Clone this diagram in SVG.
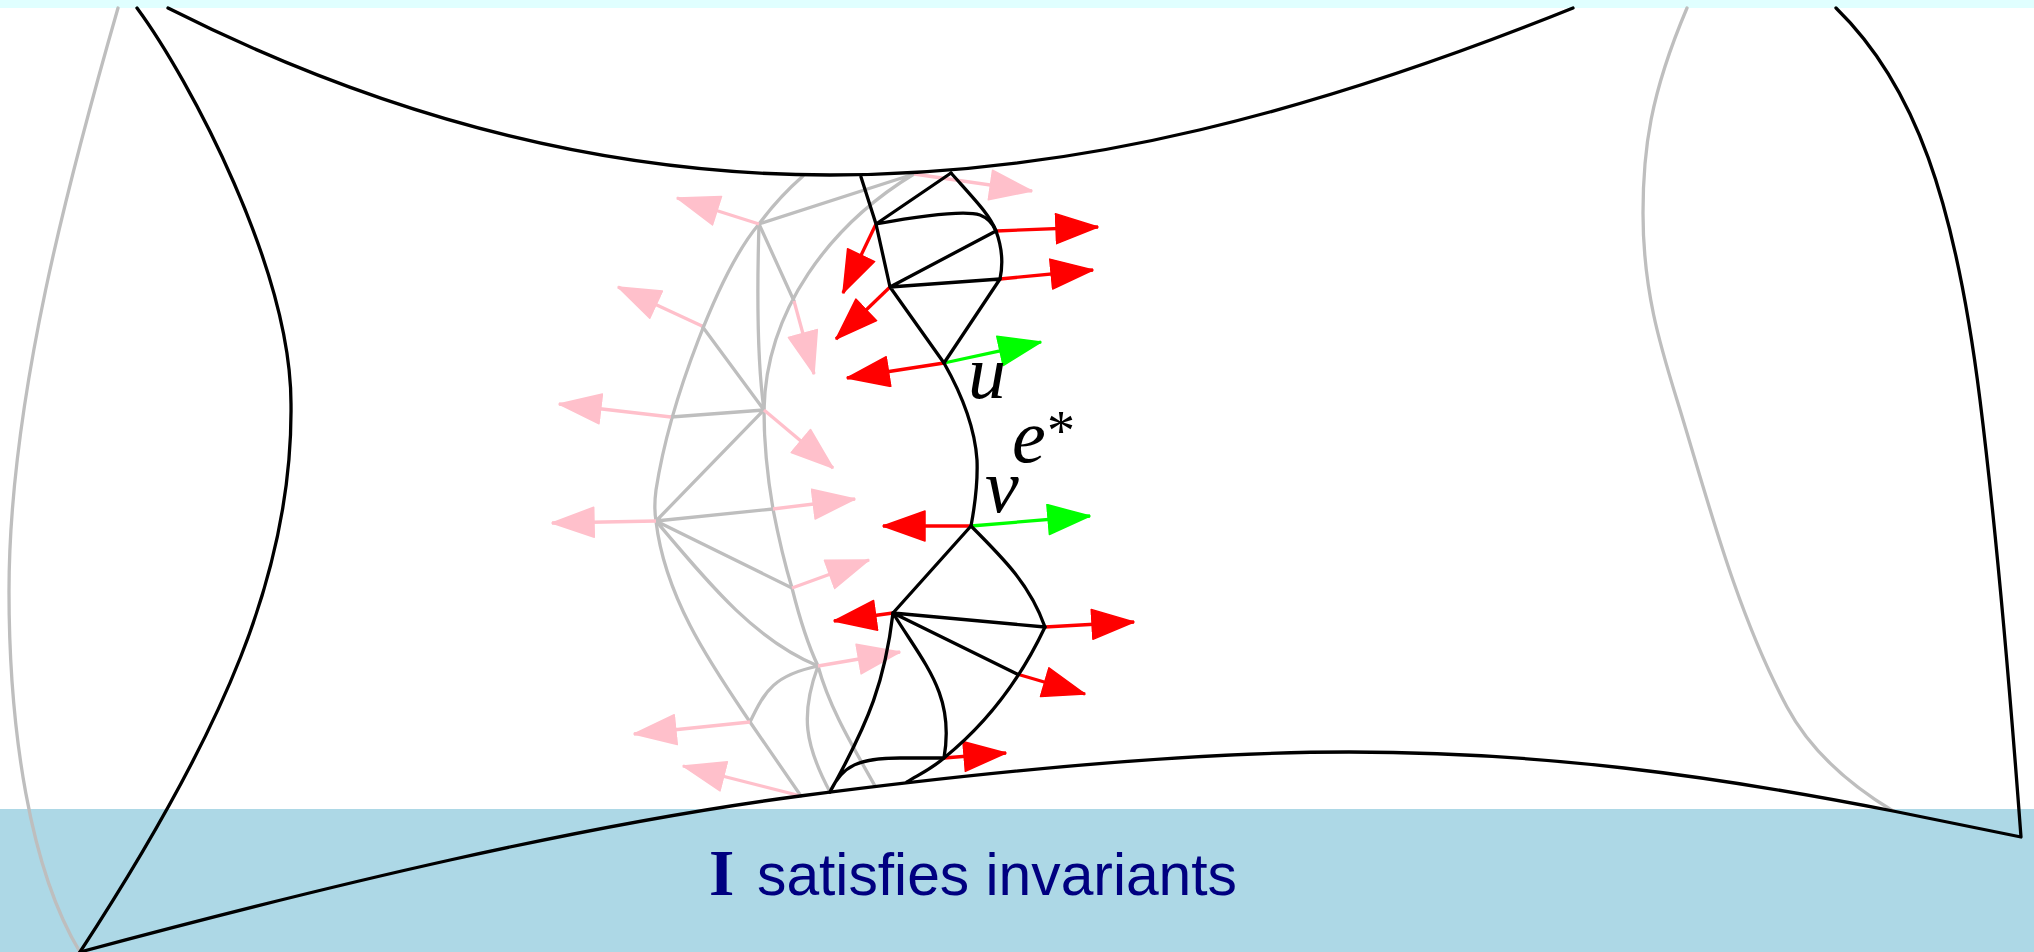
<svg xmlns="http://www.w3.org/2000/svg" width="2034" height="952" viewBox="0 0 2034 952">
<style>
.k{fill:none;stroke:#000;stroke-width:3.3;stroke-linecap:round;stroke-linejoin:round}
.g{fill:none;stroke:#bebebe;stroke-width:3.3;stroke-linecap:round;stroke-linejoin:round}
.r{fill:none;stroke:#f00;stroke-width:3.3;marker-end:url(#hr)}
.p{fill:none;stroke:#ffc0cb;stroke-width:3.3;marker-end:url(#hp)}
.n{fill:none;stroke:#0f0;stroke-width:3.3;marker-end:url(#hn)}
.m{font-family:"Liberation Serif",serif;font-style:italic;font-size:76px;fill:#000}
</style>
<defs>
<marker id="hr" markerUnits="userSpaceOnUse" markerWidth="46" markerHeight="34" refX="43" refY="16" orient="auto"><path d="M1 1L43 16L1 31Z" fill="#f00" stroke="#f00" stroke-width="1.5" stroke-linejoin="round"/></marker>
<marker id="hp" markerUnits="userSpaceOnUse" markerWidth="46" markerHeight="34" refX="43" refY="16" orient="auto"><path d="M1 1L43 16L1 31Z" fill="#ffc0cb" stroke="#ffc0cb" stroke-width="1.5" stroke-linejoin="round"/></marker>
<marker id="hn" markerUnits="userSpaceOnUse" markerWidth="46" markerHeight="34" refX="43" refY="16" orient="auto"><path d="M1 1L43 16L1 31Z" fill="#0f0" stroke="#0f0" stroke-width="1.5" stroke-linejoin="round"/></marker>
</defs>
<rect width="2034" height="952" fill="#fff"/>
<rect width="2034" height="8" fill="#e0ffff"/>
<rect y="809" width="2034" height="143" fill="#add8e6"/>
<g id="outer-gray">
<path class="g" d="M118 8C70 175 9 400 9 591C9 730 30 870 80 952"/>
<path class="g" d="M1687 8C1650 95 1643 150 1643 213C1643 290 1660 345 1677 400C1705 490 1735 610 1787 707C1810 750 1850 785 1893 811"/>
</g>
<g id="gray-edges">
<path class="g" d="M803 176Q778 198 759 224C720 270 670 400 656 490C654 505 655 515 656 521C665 600 715 670 750 722L801 796"/>
<path class="g" d="M914 174L759 224L794 301M914 174C830 225 766 310 764 410C764 440 768 480 773 509C780 545 785 565 792 588C800 620 808 645 818 666C830 710 855 750 875 786"/>
<path class="g" d="M759 224C757 290 757 360 764 410L702 326M671 417L764 410L656 521L773 509M656 521L792 588M656 521C710 585 755 640 818 666C775 675 765 690 750 722M818 666C800 715 805 745 830 792"/>
</g>
<g id="pink-arrows">
<path class="p" d="M759 224L677 198"/>
<path class="p" d="M914 174L1032 191"/>
<path class="p" d="M794 301L814 374"/>
<path class="p" d="M702 326L618 287"/>
<path class="p" d="M671 417L559 404"/>
<path class="p" d="M764 410L833 468"/>
<path class="p" d="M773 509L855 499"/>
<path class="p" d="M656 521L552 523"/>
<path class="p" d="M792 588L869 560"/>
<path class="p" d="M818 666L900 652"/>
<path class="p" d="M750 722L634 734"/>
<path class="p" d="M801 796L683 766"/>
</g>
<g id="red-arrows">
<path class="r" d="M876 224L843 293"/>
<path class="r" d="M890 287L836 339"/>
<path class="r" d="M996 231L1098 227"/>
<path class="r" d="M1000 279L1093 270"/>
<path class="r" d="M944 363L847 378"/>
<path class="r" d="M971 526L883 526"/>
<path class="r" d="M893 613L834 621"/>
<path class="r" d="M1045 627L1134 622"/>
<path class="r" d="M1017 674L1085 694"/>
<path class="r" d="M944 758L1006 753"/>
</g>
<g id="green-arrows">
<path class="n" d="M944 363L1041 342"/>
<path class="n" d="M971 526L1090 516"/>
</g>
<g id="black-edges">
<path class="k" d="M861 177L876 224L890 287L996 231M951 173L876 224C920 216 965 210 980 215C988 218 993 224 996 231M890 287L1000 279L944 363L890 287"/>
<path class="k" d="M951 173C975 200 990 215 996 231C1003 250 1003 265 1000 279"/>
<path class="k" d="M944 363C965 400 975 430 977 460C978 485 974 510 971 526"/>
<path class="k" d="M971 526L893 613L1045 627C1030 585 1005 560 971 526M893 613L1017 674"/>
<path class="k" d="M1045 627C1020 680 985 725 944 758C930 770 918 775 907 782"/>
<path class="k" d="M893 613C885 680 870 720 830 792M893 613C925 665 955 695 944 758L900 758C860 758 842 765 830 792"/>
</g>
<g id="outer-black">
<path class="k" d="M168 8C360 105 580 175 830 175C1080 175 1320 110 1573 8"/>
<path class="k" d="M137 8C190 80 291 270 291 404C293 570 225 730 80 952"/>
<path class="k" d="M80 952C330 885 580 825 800 796C1000 770 1200 752 1349 752C1540 752 1710 775 1893 811L2021 837C2010 690 1995 520 1980 400C1955 200 1915 85 1836 8"/>
</g>
<g id="labels">
<text class="m" x="968" y="398">u</text>
<text class="m" x="1012" y="462">e</text>
<text x="1047" y="450" font-family="Liberation Serif,serif" font-size="56" fill="#000">*</text>
<text class="m" x="985" y="512">v</text>
<text x="709" y="895" font-family="Liberation Serif,serif" font-weight="bold" font-size="65" fill="#000080">I</text>
<text x="757" y="895" font-family="Liberation Sans,sans-serif" font-size="60" fill="#000080" textLength="480" lengthAdjust="spacingAndGlyphs">satisfies invariants</text>
</g>
</svg>
